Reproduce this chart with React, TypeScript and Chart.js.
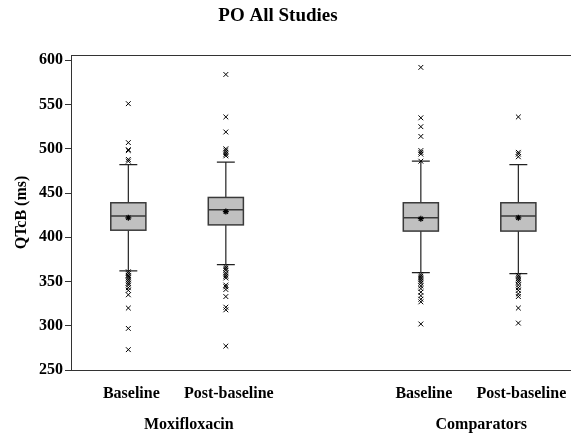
import React, { useEffect, useRef } from "react";
import { Chart, registerables } from "chart.js";

Chart.register(...registerables);

const titleText = "PO All Studies";
const yAxisTitle = "QTcB (ms)";
const groups = ["Moxifloxacin", "Comparators"];
const categories = ["Baseline", "Post-baseline", "Baseline", "Post-baseline"];
const slots = [1, 2, 4, 5];
const yTicks = [250, 300, 350, 400, 450, 500, 550, 600];

const whiskerLow = [362, 369, 360, 359];
const q1 = [408, 414, 407, 407];
const median = [424, 431, 422, 424];
const q3 = [439, 445, 439, 439];
const whiskerHigh = [482, 485, 486, 482];
const means = [422, 429, 421, 422];

const outliersMoxiBaseline = [551, 507, 499, 498, 488, 486, 361, 359, 357, 356, 354, 352, 350, 348, 346, 343, 340, 335, 320, 297, 273];
const outliersMoxiPost = [584, 536, 519, 500, 498, 496, 494, 492, 367, 365, 363, 360, 358, 356, 354, 346, 344, 341, 333, 321, 318, 277];
const outliersCompBaseline = [592, 535, 525, 514, 498, 496, 494, 486, 358, 356, 354, 352, 350, 348, 345, 342, 338, 334, 330, 327, 302];
const outliersCompPost = [536, 496, 494, 491, 357, 355, 353, 351, 349, 346, 343, 340, 336, 333, 320, 303];
const outliers = [outliersMoxiBaseline, outliersMoxiPost, outliersCompBaseline, outliersCompPost];

const FONT = "'Liberation Serif', 'Times New Roman', serif";

const boxPlugin = {
  id: "boxes",
  beforeDatasetsDraw(chart: any) {
    const { ctx, scales } = chart;
    const x = scales.x;
    const y = scales.y;
    ctx.save();
    slots.forEach((p: number, i: number) => {
      const cx = x.getPixelForValue(p);
      const half = x.getPixelForValue(p + 0.18) - cx;
      const cap = x.getPixelForValue(p + 0.092) - cx;
      const yLw = y.getPixelForValue(whiskerLow[i]);
      const yQ1 = y.getPixelForValue(q1[i]);
      const yMed = y.getPixelForValue(median[i]);
      const yQ3 = y.getPixelForValue(q3[i]);
      const yUw = y.getPixelForValue(whiskerHigh[i]);
      ctx.strokeStyle = "#222";
      ctx.lineWidth = 1.2;
      ctx.beginPath();
      ctx.moveTo(cx, yQ3);
      ctx.lineTo(cx, yUw);
      ctx.moveTo(cx - cap, yUw);
      ctx.lineTo(cx + cap, yUw);
      ctx.moveTo(cx, yQ1);
      ctx.lineTo(cx, yLw);
      ctx.moveTo(cx - cap, yLw);
      ctx.lineTo(cx + cap, yLw);
      ctx.stroke();
      ctx.fillStyle = "#c0c0c0";
      ctx.fillRect(cx - half, yQ3, half * 2, yQ1 - yQ3);
      ctx.strokeStyle = "#3a3a3a";
      ctx.lineWidth = 1.5;
      ctx.strokeRect(cx - half, yQ3, half * 2, yQ1 - yQ3);
      ctx.beginPath();
      ctx.moveTo(cx - half, yMed);
      ctx.lineTo(cx + half, yMed);
      ctx.stroke();
    });
    ctx.restore();
  },
  afterDraw(chart: any) {
    const { ctx, chartArea, scales } = chart;
    const x = scales.x;
    ctx.save();
    ctx.strokeStyle = "#333";
    ctx.lineWidth = 1;
    ctx.beginPath();
    ctx.moveTo(chartArea.left, chartArea.top + 0.5);
    ctx.lineTo(chartArea.right, chartArea.top + 0.5);
    ctx.stroke();
    ctx.fillStyle = "#000";
    ctx.textAlign = "center";
    ctx.textBaseline = "middle";
    ctx.font = `bold 19px ${FONT}`;
    ctx.fillText(titleText, 278, 16);
    ctx.font = `bold 16px ${FONT}`;
    groups.forEach((g: string, gi: number) => {
      const a = slots[gi * 2];
      const b = slots[gi * 2 + 1];
      const gx = x.getPixelForValue((a + b) / 2 + 0.12);
      ctx.fillText(g, gx, 425);
    });
    ctx.restore();
  },
};

export default function App() {
  const ref = useRef<HTMLCanvasElement>(null);
  useEffect(() => {
    if (!ref.current) return;
    const datasets: any[] = [];
    datasets.push({
      label: "outliers",
      data: outliers.flatMap((arr, i) => arr.map((v) => ({ x: slots[i], y: v }))),
      pointStyle: "crossRot",
      radius: 3.4,
      borderColor: "#000",
      borderWidth: 1,
      backgroundColor: "#000",
    });
    datasets.push({
      label: "mean",
      data: means.map((v, i) => ({ x: slots[i], y: v })),
      pointStyle: "star",
      radius: 3,
      borderColor: "#000",
      borderWidth: 1.2,
      backgroundColor: "#000",
    });
    const chart = new Chart(ref.current, {
      type: "scatter",
      data: { datasets },
      plugins: [boxPlugin],
      options: {
        animation: false,
        responsive: false,
        devicePixelRatio: 1,
        layout: { autoPadding: false, padding: { top: 55, right: 0, left: 0, bottom: 0 } },
        plugins: {
          legend: { display: false },
          tooltip: { enabled: false },
          title: { display: false },
        },
        scales: {
          x: {
            type: "linear",
            min: 0.412,
            max: 5.54,
            afterBuildTicks: (s: any) => {
              s.ticks = slots.map((v) => ({ value: v }));
            },
            afterFit: (s: any) => {
              s.height = 68;
              s.paddingLeft = 0;
              s.paddingRight = 0;
            },
            grid: { display: false },
            border: { display: true, color: "#333", width: 1 },
            ticks: {
              autoSkip: false,
              maxRotation: 0,
              padding: 6,
              labelOffset: 3,
              color: "#000",
              font: { family: FONT, size: 16, weight: "bold" },
              callback: (_v: any, i: number) => categories[i],
            },
          },
          y: {
            type: "linear",
            min: 250,
            max: 606,
            afterBuildTicks: (s: any) => {
              s.ticks = yTicks.map((v) => ({ value: v }));
            },
            afterFit: (s: any) => {
              s.width = 71;
            },
            grid: { drawOnChartArea: false, drawTicks: true, tickLength: 6, color: "#333" },
            border: { display: true, color: "#333", width: 1 },
            ticks: {
              padding: 2,
              color: "#000",
              font: { family: FONT, size: 16, weight: "bold" },
            },
            title: {
              display: true,
              text: yAxisTitle,
              color: "#000",
              padding: { top: 12, bottom: 0 },
              font: { family: FONT, size: 16, weight: "bold" },
            },
          },
        },
      },
    } as any);
    return () => chart.destroy();
  }, []);
  return (
    <div style={{ position: "fixed", left: 0, top: 0, width: 571, height: 438, background: "#fff" }}>
      <canvas ref={ref} width={571} height={438} style={{ display: "block" }} />
    </div>
  );
}
